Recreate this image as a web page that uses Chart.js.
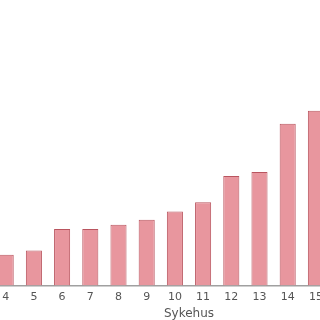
<!DOCTYPE html>
<html>
<head>
<meta charset="utf-8">
<script src="https://cdn.jsdelivr.net/npm/chart.js@4"></script>
<style>
html,body{margin:0;padding:0;width:320px;height:320px;overflow:hidden;background:#fff;}
#wrap{position:absolute;left:-93px;top:0;width:564px;height:324px;}
</style>
</head>
<body>
<div id="wrap"><canvas id="c" width="564" height="324"></canvas></div>
<script>
// Hospitals (only 4–15 are visible in the cropped reference; others unknown)
const categories = ["1","2","3","4","5","6","7","8","9","10","11","12","13","14","15","16","17","18","19","20"];
const values = [null,null,null,11.1,12.7,20.5,20.5,22.0,23.8,26.8,30.2,39.7,41.2,58.7,63.4,null,null,null,null,null];
const axisTitle = "Sykehus";
const yMax = 100;

new Chart(document.getElementById('c'), {
  type: 'bar',
  data: {
    labels: categories,
    datasets: [{
      data: values,
      backgroundColor: 'rgb(232,150,158)',
      borderColor: 'rgb(185,85,95)',
      borderWidth: 1,
      categoryPercentage: 1,
      barPercentage: 0.57
    }]
  },
  options: {
    responsive: false,
    animation: false,
    devicePixelRatio: 1,
    layout: { padding: { top: 10, left: 0, right: 0, bottom: 0 } },
    plugins: { legend: { display: false }, tooltip: { enabled: false } },
    scales: {
      x: {
        grid: { display: false, drawTicks: false },
        border: { display: true, color: '#a0a0a0', width: 1.5 },
        ticks: { padding: 5, color: '#555', font: { family: 'DejaVu Sans', size: 11 } },
        title: { display: true, text: axisTitle, color: '#555', font: { family: 'DejaVu Sans', size: 12 }, padding: { top: -2, bottom: 3 } }
      },
      y: { display: false, min: 0, max: yMax }
    }
  }
});
</script>
</body>
</html>
